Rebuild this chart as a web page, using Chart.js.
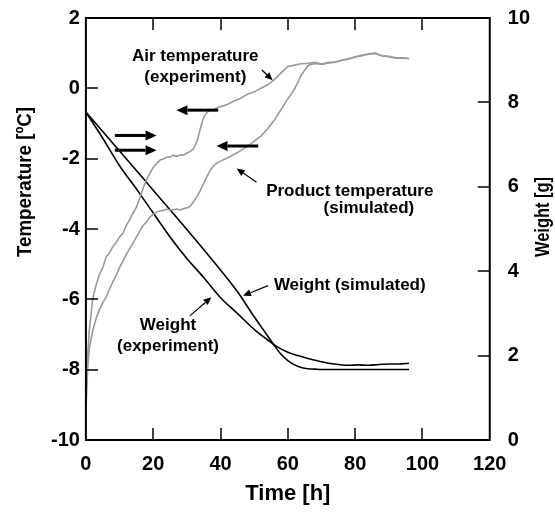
<!DOCTYPE html>
<html>
<head>
<meta charset="utf-8">
<script src="https://cdn.jsdelivr.net/npm/chart.js@4.4.1/dist/chart.umd.min.js"></script>
<style>
  html, body { margin: 0; padding: 0; background: #fff; }
</style>
</head>
<body>
<canvas id="grafico" width="555" height="512"></canvas>
<script>
// tick values
const timeTicks = [0, 20, 40, 60, 80, 100, 120];
const tempTicks = [-10, -8, -6, -4, -2, 0, 2];
const weightTicks = [0, 2, 4, 6, 8, 10];

// air temperature (experiment)
const airTime = [0, 0.3, 1, 2, 3, 4, 5, 6, 7, 8, 9, 10, 11, 12, 13, 14, 15, 16, 17, 18, 19, 20, 21, 22, 23, 24, 25, 26, 27, 28, 29, 30, 31, 32, 33, 34, 35, 36, 37, 38, 39, 40, 42, 44, 46, 48, 50, 52, 54, 56, 58, 60, 62, 64, 66, 68, 70, 72, 74, 76, 78, 80, 82, 84, 86, 88, 90, 92, 94, 96];
const airTemp = [-9.2, -7.9, -6.9, -6.0, -5.6, -5.3, -5.1, -4.8, -4.68, -4.5, -4.38, -4.23, -4.12, -3.9, -3.74, -3.55, -3.38, -3.12, -2.84, -2.6, -2.42, -2.25, -2.14, -2.04, -2.01, -1.96, -1.95, -1.9, -1.94, -1.89, -1.9, -1.84, -1.8, -1.72, -1.52, -1.15, -0.82, -0.68, -0.62, -0.6, -0.55, -0.52, -0.46, -0.36, -0.28, -0.17, -0.1, 0.0, 0.1, 0.25, 0.44, 0.62, 0.66, 0.7, 0.71, 0.74, 0.69, 0.73, 0.75, 0.8, 0.84, 0.9, 0.94, 0.98, 1.0, 0.93, 0.91, 0.87, 0.87, 0.85];

// product temperature (simulated)
const prodTime = [0, 0.5, 1, 2, 3, 4, 5, 6, 7, 8, 9, 10, 11, 12, 13, 14, 15, 16, 17, 18, 19, 20, 21, 22, 23, 24, 25, 26, 27, 28, 29, 30, 31, 32, 33, 34, 35, 36, 37, 38, 39, 40, 42, 44, 46, 48, 50, 52, 54, 56, 58, 60, 62, 64, 66, 68, 70, 72, 74, 76, 78, 80, 82, 84, 86, 88, 90, 92, 94, 96];
const prodTemp = [-9.2, -8.0, -7.4, -6.9, -6.55, -6.3, -6.1, -5.94, -5.72, -5.5, -5.32, -5.09, -4.92, -4.72, -4.56, -4.4, -4.23, -4.06, -3.9, -3.8, -3.66, -3.58, -3.52, -3.48, -3.47, -3.44, -3.46, -3.45, -3.43, -3.46, -3.42, -3.4, -3.35, -3.22, -3.08, -2.9, -2.7, -2.5, -2.32, -2.2, -2.12, -2.07, -1.98, -1.88, -1.77, -1.65, -1.5, -1.36, -1.15, -0.9, -0.6, -0.3, -0.02, 0.38, 0.65, 0.71, 0.68, 0.72, 0.74, 0.79, 0.83, 0.89, 0.93, 0.97, 0.99, 0.92, 0.9, 0.86, 0.86, 0.84];

// weight (experiment)
const wExpTime = [0, 5, 10, 15, 20, 25, 30, 35, 40, 45, 50, 54, 57, 60, 63, 66, 69, 72, 75, 78, 81, 84, 87, 90, 93, 96];
const wExp = [7.77, 7.15, 6.5, 5.95, 5.38, 4.81, 4.3, 3.85, 3.37, 3.0, 2.62, 2.37, 2.2, 2.08, 2.0, 1.93, 1.87, 1.82, 1.79, 1.77, 1.78, 1.77, 1.79, 1.8, 1.8, 1.82];

// weight (simulated)
const wSimTime = [0, 10, 20, 30, 40, 45, 50, 53, 56, 58, 60, 62, 64, 66, 68, 70, 80, 96];
const wSim = [7.77, 6.85, 5.92, 4.99, 4.03, 3.52, 2.92, 2.58, 2.24, 2.03, 1.88, 1.78, 1.72, 1.69, 1.68, 1.67, 1.67, 1.67];

const pts = (xs, ys) => xs.map((v, i) => ({ x: v, y: ys[i] }));

// annotation text and arrows, in data units (time, temperature)
const notes = [
  { lines: ['Air temperature', '(experiment)'], x: 32.5, y: 0.92, gap: 0.6 },
  { lines: ['Product temperature'], x: 78.4, y: -2.93 },
  { lines: ['(simulated)'], x: 84.1, y: -3.42 },
  { lines: ['Weight (simulated)'], x: 78.4, y: -5.61 },
  { lines: ['Weight', '(experiment)'], x: 24.4, y: -6.75, gap: 0.6 }
];
const bigArrows = [
  [39.3, -0.62, 26.9, -0.62],
  [8.6, -1.34, 21.0, -1.34],
  [8.6, -1.76, 21.0, -1.76],
  [51.2, -1.64, 38.8, -1.64]
];
const pointers = [
  [52.3, 0.52, 55.5, 0.23],
  [50.7, -2.67, 44.8, -2.28],
  [54.1, -5.61, 46.7, -5.9],
  [30.9, -6.47, 37.3, -5.94]
];

const FONT = '"Liberation Sans", Arial, sans-serif';

function drawArrow(ctx, x1, y1, x2, y2, lw, hl, hw) {
  const ang = Math.atan2(y2 - y1, x2 - x1);
  const bx = x2 - hl * Math.cos(ang), by = y2 - hl * Math.sin(ang);
  ctx.lineWidth = lw;
  ctx.beginPath();
  ctx.moveTo(x1, y1);
  ctx.lineTo(bx, by);
  ctx.stroke();
  ctx.beginPath();
  ctx.moveTo(x2, y2);
  ctx.lineTo(bx + hw * Math.sin(ang), by - hw * Math.cos(ang));
  ctx.lineTo(bx - hw * Math.sin(ang), by + hw * Math.cos(ang));
  ctx.closePath();
  ctx.fill();
}

const decor = {
  id: 'decor',
  afterDatasetsDraw(c) {
    const ctx = c.ctx, a = c.chartArea;
    const sx = c.scales.x, sy = c.scales.y, sw = c.scales.y1;
    ctx.save();
    ctx.strokeStyle = '#000';
    ctx.fillStyle = '#000';

    // frame
    ctx.lineWidth = 2;
    ctx.strokeRect(a.left, a.top, a.right - a.left, a.bottom - a.top);

    // inward tick marks
    ctx.lineWidth = 1.5;
    ctx.beginPath();
    timeTicks.slice(1, -1).forEach(v => {
      const px = Math.round(sx.getPixelForValue(v));
      ctx.moveTo(px, a.bottom); ctx.lineTo(px, a.bottom - 12);
      ctx.moveTo(px, a.top); ctx.lineTo(px, a.top + 12);
    });
    tempTicks.slice(1, -1).forEach(v => {
      const py = Math.round(sy.getPixelForValue(v));
      ctx.moveTo(a.left, py); ctx.lineTo(a.left + 12, py);
    });
    weightTicks.slice(1, -1).forEach(v => {
      const py = Math.round(sw.getPixelForValue(v));
      ctx.moveTo(a.right, py); ctx.lineTo(a.right - 12, py);
    });
    ctx.stroke();

    // annotations
    ctx.font = 'bold 17px ' + FONT;
    ctx.textAlign = 'center';
    ctx.textBaseline = 'middle';
    notes.forEach(n => {
      n.lines.forEach((t, i) => {
        ctx.fillText(t, sx.getPixelForValue(n.x), sy.getPixelForValue(n.y - i * (n.gap || 0)));
      });
    });
    bigArrows.forEach(r => drawArrow(ctx, sx.getPixelForValue(r[0]), sy.getPixelForValue(r[1]),
      sx.getPixelForValue(r[2]), sy.getPixelForValue(r[3]), 3, 11, 5));
    pointers.forEach(r => drawArrow(ctx, sx.getPixelForValue(r[0]), sy.getPixelForValue(r[1]),
      sx.getPixelForValue(r[2]), sy.getPixelForValue(r[3]), 1.2, 8, 3.5));

    // axis titles
    ctx.font = 'bold 22px ' + FONT;
    ctx.fillText('Time [h]', (a.left + a.right) / 2, a.bottom + 54);
    ctx.save();
    ctx.translate(25, a.top + 164);
    ctx.rotate(-Math.PI / 2);
    ctx.font = 'bold 20px ' + FONT;
    ctx.fillText('Temperature [ºC]', 0, 0, 150);
    ctx.restore();
    ctx.save();
    ctx.translate(543, a.top + 199);
    ctx.rotate(-Math.PI / 2);
    ctx.font = 'bold 20px ' + FONT;
    ctx.fillText('Weight [g]', 0, 0, 80);
    ctx.restore();

    ctx.restore();
  }
};

const tickFont = { family: FONT, size: 20, weight: 'bold' };

new Chart(document.getElementById('grafico').getContext('2d'), {
  type: 'line',
  data: {
    datasets: [
      { label: 'Air temperature (experiment)', data: pts(airTime, airTemp), yAxisID: 'y',
        borderColor: '#9a9a9a', borderWidth: 1.6, pointRadius: 0, tension: 0 },
      { label: 'Product temperature (simulated)', data: pts(prodTime, prodTemp), yAxisID: 'y',
        borderColor: '#9a9a9a', borderWidth: 1.6, pointRadius: 0, tension: 0 },
      { label: 'Weight (experiment)', data: pts(wExpTime, wExp), yAxisID: 'y1',
        borderColor: '#000', borderWidth: 1.6, pointRadius: 0, cubicInterpolationMode: 'monotone' },
      { label: 'Weight (simulated)', data: pts(wSimTime, wSim), yAxisID: 'y1',
        borderColor: '#000', borderWidth: 1.6, pointRadius: 0, cubicInterpolationMode: 'monotone' }
    ]
  },
  options: {
    responsive: false,
    animation: false,
    layout: { padding: { left: 45, right: 7, top: 0, bottom: 24 } },
    plugins: { legend: { display: false }, tooltip: { enabled: false } },
    scales: {
      x: {
        type: 'linear', min: 0, max: 120,
        ticks: { stepSize: 20, font: tickFont, color: '#000', padding: 12 },
        grid: { display: false, drawTicks: false },
        border: { display: false }
      },
      y: {
        position: 'left', min: -10, max: 2,
        ticks: { stepSize: 2, font: tickFont, color: '#000', padding: 6 },
        grid: { display: false, drawTicks: false },
        border: { display: false }
      },
      y1: {
        position: 'right', min: 0, max: 10,
        ticks: { stepSize: 2, font: { family: FONT, size: 20, weight: 'bold', lineHeight: 0 }, color: '#000', padding: 18 },
        grid: { display: false, drawTicks: false },
        border: { display: false }
      }
    }
  },
  plugins: [decor]
});
</script>
</body>
</html>
